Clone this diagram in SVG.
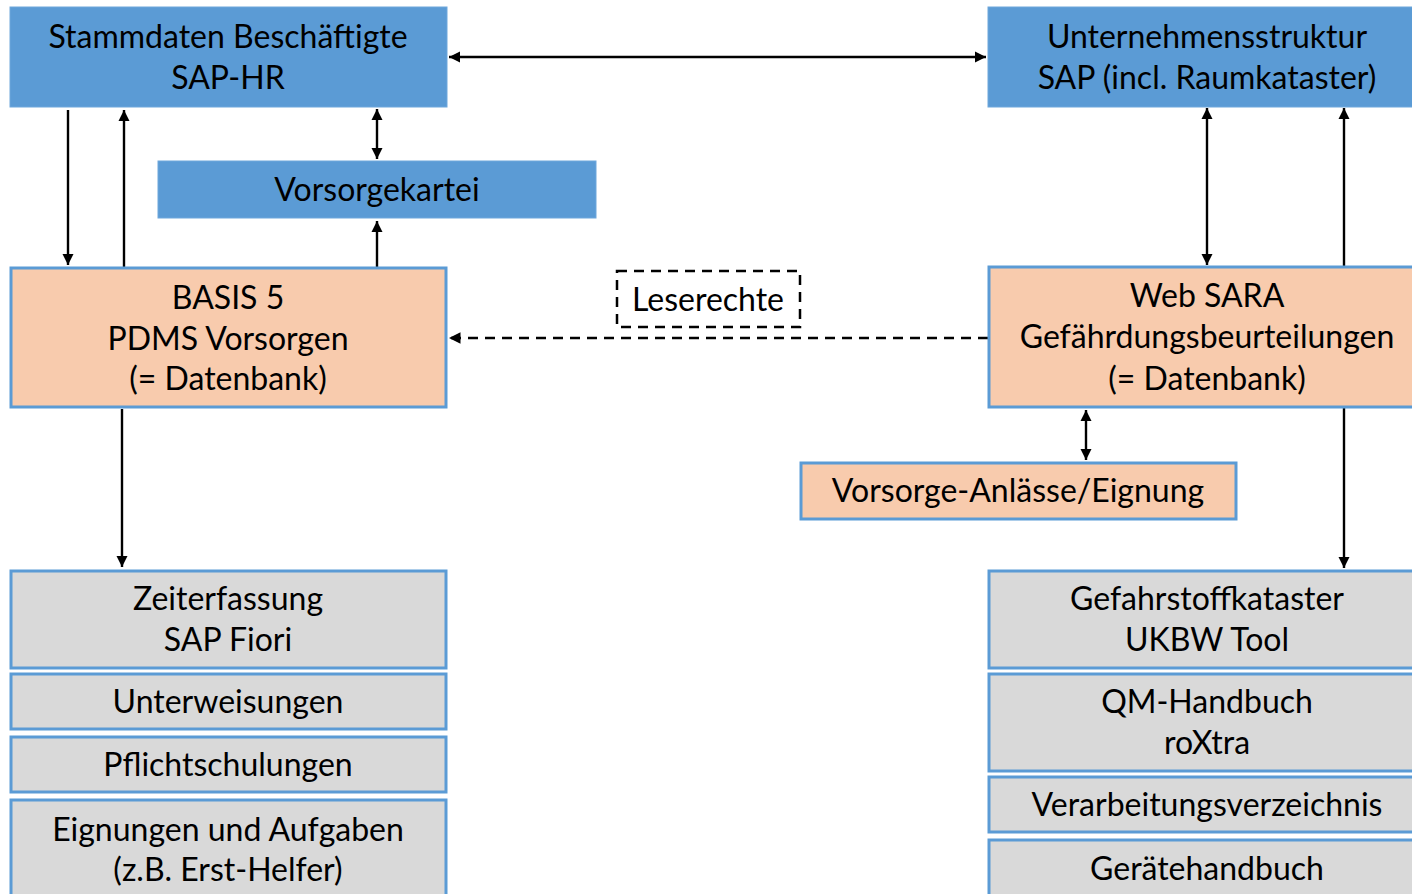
<svg xmlns="http://www.w3.org/2000/svg" width="1412" height="894" viewBox="0 0 1412 894">
<style>
  text { font-family: Lato, "Open Sans", "Liberation Sans", sans-serif; font-size: 32px; fill: #000; text-anchor: middle; }
  .blue { fill: #5B9BD5; stroke: #6FA7DC; stroke-width: 1; }
  .orange { fill: #F8CBAD; stroke: #5B9BD5; stroke-width: 3; }
  .gray { fill: #D9D9D9; stroke: #5B9BD5; stroke-width: 3; }
  .conn { stroke: #000; stroke-width: 2.4; fill: none; }
  .dash { stroke: #000; stroke-width: 2.5; fill: none; stroke-dasharray: 10 7; }
</style>
<defs>
  <marker id="ah" viewBox="0 0 10 10" refX="10" refY="5" markerWidth="4.6" markerHeight="4.6" markerUnits="strokeWidth" orient="auto-start-reverse">
    <path d="M0,0 L10,5 L0,10 z" fill="#000"/>
  </marker>
</defs>
<rect width="1412" height="894" fill="#fff"/>

<g id="connectors">
  <line class="conn" x1="449" y1="57" x2="986" y2="57" marker-start="url(#ah)" marker-end="url(#ah)"/>
  <line class="conn" x1="68" y1="110" x2="68" y2="265" marker-end="url(#ah)"/>
  <line class="conn" x1="124" y1="267" x2="124" y2="110" marker-end="url(#ah)"/>
  <line class="conn" x1="377" y1="109" x2="377" y2="159" marker-start="url(#ah)" marker-end="url(#ah)"/>
  <line class="conn" x1="377" y1="267" x2="377" y2="221" marker-end="url(#ah)"/>
  <line class="conn" x1="122" y1="409" x2="122" y2="567" marker-end="url(#ah)"/>
  <line class="conn" x1="1207" y1="108" x2="1207" y2="265" marker-start="url(#ah)" marker-end="url(#ah)"/>
  <line class="conn" x1="1344" y1="266" x2="1344" y2="108" marker-end="url(#ah)"/>
  <line class="conn" x1="1086" y1="410" x2="1086" y2="460" marker-start="url(#ah)" marker-end="url(#ah)"/>
  <line class="conn" x1="1344" y1="408" x2="1344" y2="568" marker-end="url(#ah)"/>
  <line class="dash" x1="988" y1="338" x2="449" y2="338" marker-end="url(#ah)"/>
</g>

<g id="stammdaten">
  <rect class="blue" x="10" y="7" width="437" height="100"/>
  <text x="228" y="48">Stammdaten Beschäftigte</text>
  <text x="228" y="89">SAP-HR</text>
</g>
<g id="unternehmensstruktur">
  <rect class="blue" x="988" y="7" width="430" height="100"/>
  <text x="1207" y="48">Unternehmensstruktur</text>
  <text x="1207" y="89">SAP (incl. Raumkataster)</text>
</g>
<g id="vorsorgekartei">
  <rect class="blue" x="158" y="161" width="438" height="57"/>
  <text x="377" y="201">Vorsorgekartei</text>
</g>
<g id="basis5">
  <rect class="orange" x="11" y="268" width="435" height="139"/>
  <text x="228" y="309">BASIS 5</text>
  <text x="228" y="350">PDMS Vorsorgen</text>
  <text x="228" y="390">(= Datenbank)</text>
</g>
<g id="leserechte">
  <rect x="617" y="271" width="183" height="56" fill="none" stroke="#000" stroke-width="2.5" stroke-dasharray="10 7"/>
  <text x="708" y="311">Leserechte</text>
</g>
<g id="websara">
  <rect class="orange" x="989" y="267" width="430" height="140"/>
  <text x="1207" y="307">Web SARA</text>
  <text x="1207" y="348">Gefährdungsbeurteilungen</text>
  <text x="1207" y="390">(= Datenbank)</text>
</g>
<g id="vorsorgeanlaesse">
  <rect class="orange" x="801" y="463" width="435" height="56"/>
  <text x="1018" y="502">Vorsorge-Anlässe/Eignung</text>
</g>
<g id="zeiterfassung">
  <rect class="gray" x="11" y="571" width="435" height="97"/>
  <text x="228" y="610">Zeiterfassung</text>
  <text x="228" y="651">SAP Fiori</text>
</g>
<g id="unterweisungen">
  <rect class="gray" x="11" y="674" width="435" height="55"/>
  <text x="228" y="713">Unterweisungen</text>
</g>
<g id="pflichtschulungen">
  <rect class="gray" x="11" y="737" width="435" height="55"/>
  <text x="228" y="776">Pflichtschulungen</text>
</g>
<g id="eignungen">
  <rect class="gray" x="11" y="800" width="435" height="110"/>
  <text x="228" y="841">Eignungen und Aufgaben</text>
  <text x="228" y="881">(z.B. Erst-Helfer)</text>
</g>
<g id="gefahrstoffkataster">
  <rect class="gray" x="989" y="571" width="430" height="97"/>
  <text x="1207" y="610">Gefahrstoffkataster</text>
  <text x="1207" y="651">UKBW Tool</text>
</g>
<g id="qmhandbuch">
  <rect class="gray" x="989" y="674" width="430" height="97"/>
  <text x="1207" y="713">QM-Handbuch</text>
  <text x="1207" y="754">roXtra</text>
</g>
<g id="verarbeitungsverzeichnis">
  <rect class="gray" x="989" y="777" width="430" height="55"/>
  <text x="1207" y="816">Verarbeitungsverzeichnis</text>
</g>
<g id="geraetehandbuch">
  <rect class="gray" x="989" y="840" width="430" height="70"/>
  <text x="1207" y="880">Gerätehandbuch</text>
</g>
</svg>
